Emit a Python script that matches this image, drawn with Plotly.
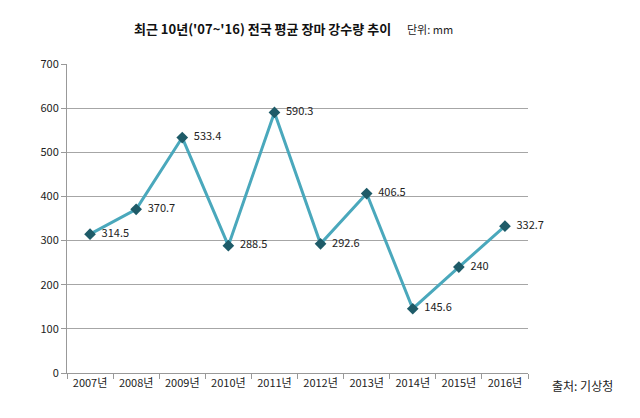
import plotly.graph_objects as go

years = ["2007년", "2008년", "2009년", "2010년", "2011년", "2012년", "2013년", "2014년", "2015년", "2016년"]
rainfall = [314.5, 370.7, 533.4, 288.5, 590.3, 292.6, 406.5, 145.6, 240, 332.7]
labels = ["314.5", "370.7", "533.4", "288.5", "590.3", "292.6", "406.5", "145.6", "240", "332.7"]

font = "Noto Sans CJK KR"

L, R, T, B = 67, 112, 64, 45
W, H = 640, 418
pw, ph = W - L - R, H - T - B
def px(x): return (x - L) / pw
def py(y): return (H - B - y) / ph

fig = go.Figure()
fig.add_trace(go.Scatter(
    x=years, y=rainfall, mode="lines+markers+text",
    text=["  " + t for t in labels], textposition="middle right",
    textfont=dict(family=font, size=11, color="#222222"),
    line=dict(color="#4AA8BC", width=3),
    marker=dict(symbol="diamond", size=9, color="#1E5B68"),
    cliponaxis=False, showlegend=False,
))

fig.update_layout(
    width=W, height=H,
    margin=dict(l=L, r=R, t=T, b=B),
    plot_bgcolor="white", paper_bgcolor="white",
    font=dict(family=font, size=11, color="#222222"),
    xaxis=dict(
        type="category", range=[-0.5, 9.5],
        showgrid=False, showline=True, linecolor="#999999", linewidth=1,
        ticks="outside", tickson="boundaries", ticklen=5, tickcolor="#999999",
        tickfont=dict(family=font, size=11, color="#222222"),
    ),
    yaxis=dict(
        range=[0, 700], dtick=100,
        showgrid=True, gridcolor="#A6A6A6", gridwidth=1,
        showline=True, linecolor="#999999", linewidth=1,
        ticks="outside", ticklen=5, tickcolor="#999999",
        tickfont=dict(family=font, size=11, color="#222222"),
        zeroline=False,
    ),
    annotations=[
        dict(text="<b>최근 10년('07~'16) 전국 평균 장마 강수량 추이</b>",
             x=px(262), y=py(28), xref="paper", yref="paper",
             xanchor="center", yanchor="middle", showarrow=False,
             font=dict(family=font, size=13, color="#111111")),
        dict(text="단위: mm", x=px(430), y=py(29), xref="paper", yref="paper",
             xanchor="center", yanchor="middle", showarrow=False,
             font=dict(family=font, size=11, color="#222222")),
        dict(text="출처: 기상청", x=px(582), y=py(385), xref="paper", yref="paper",
             xanchor="center", yanchor="middle", showarrow=False,
             font=dict(family=font, size=12, color="#222222")),
    ],
)

fig.write_html("out.html", config={"displayModeBar": False},
               post_script="document.body.style.margin='0';")
